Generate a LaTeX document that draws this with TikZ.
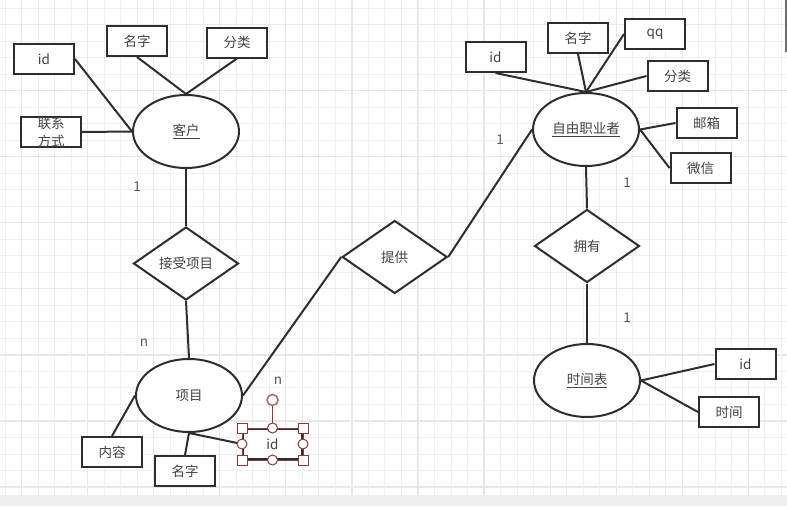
\documentclass[tikz,border=0pt]{standalone}
\usepackage{fontspec}
\setmainfont{Noto Sans CJK SC}
\usetikzlibrary{shapes.geometric}
\definecolor{ink}{HTML}{2E2E2E}
\definecolor{gridminor}{HTML}{EFEFEF}
\definecolor{gridmajor}{HTML}{E8E8E8}
\definecolor{selred}{HTML}{8B3A3A}
\tikzset{
  txt/.style={font=\fontsize{13.5}{16}\selectfont, text=ink!90},
  attr/.style={txt, draw=ink, fill=white, line width=2pt, minimum width=60pt, minimum height=30pt, inner sep=0pt},
  entity/.style={txt, ellipse, draw=ink, fill=white, line width=2pt, minimum width=106pt, minimum height=73pt, inner sep=0pt},
  rel/.style={txt, diamond, draw=ink, fill=white, line width=2pt, minimum width=105pt, minimum height=73pt, inner sep=0pt},
  card/.style={txt, text=ink!80},
  link/.style={draw=ink, line width=2pt},
  handlesq/.style={draw=selred, fill=white, line width=1pt, minimum size=10pt, inner sep=0pt},
  handlec/.style={circle, draw=selred, fill=white, line width=1pt, minimum size=10pt, inner sep=0pt},
}
\begin{document}
\begin{tikzpicture}[x=1pt, y=-1pt]
  \useasboundingbox (0,0) rectangle (787,506);
  \fill[white] (0,0) rectangle (787,506);
  \foreach \i in {0,...,47}
    \draw[gridminor, line width=1pt] (5+\i*16.52,0) -- (5+\i*16.52,495);
  \foreach \j in {0,...,29}
    \draw[gridminor, line width=1pt] (0,8+\j*16.52) -- (787,8+\j*16.52);
  \foreach \i in {1,5,...,45}
    \draw[gridmajor, line width=1.2pt] (5+\i*16.52,0) -- (5+\i*16.52,495);
  \foreach \j in {1,5,...,29}
    \draw[gridmajor, line width=1.2pt] (0,8+\j*16.52) -- (787,8+\j*16.52);
  \fill[gridminor] (0,495) rectangle (787,506);
  \draw[ink!70, line width=1.2pt] (786,0) -- (786,52);

  \node[entity] (kehu) at (186,131.5) {\underline{客户}};
  \node[attr] (kid) at (44,59) {id};
  \node[attr] (kname) at (137,41) {名字};
  \node[attr] (kcat) at (237,42.5) {分类};
  \node[attr, align=center, font=\fontsize{13.5}{18}\selectfont] (kcontact) at (51,132) {联系\\方式};
  \node[rel] (accept) at (186,263.5) {接受项目};
  \node[entity] (xm) at (189,395.5) {项目};
  \node[attr] (xcontent) at (112,452) {内容};
  \node[attr] (xname) at (185,471) {名字};
  \node[attr, minimum width=59pt] (xid) at (272.5,444) {id};
  \node[rel] (provide) at (394.7,257) {提供};
  \node[entity] (zy) at (586,129.5) {\underline{自由职业者}};
  \node[attr] (zid) at (495.5,57) {id};
  \node[attr] (zname) at (578,38) {名字};
  \node[attr] (zqq) at (655,34) {qq};
  \node[attr] (zcat) at (677.5,76) {分类};
  \node[attr] (zmail) at (706.5,123) {邮箱};
  \node[attr] (zwx) at (700.5,168) {微信};
  \node[rel] (own) at (587,246) {拥有};
  \node[entity] (sj) at (587,380.5) {\underline{时间表}};
  \node[attr] (sid) at (745.5,364) {id};
  \node[attr] (stime) at (729,412) {时间};

  \draw[link] (kid.east) -- (kehu.west);
  \draw[link] (kcontact.east) -- (kehu.west);
  \draw[link] (kname.south) -- (kehu.north);
  \draw[link] (kcat.south) -- (kehu.north);
  \draw[link] (kehu.south) -- (accept.north);
  \draw[link] (accept.south) -- (xm.north);
  \draw[link] (xcontent.north) -- (xm.west);
  \draw[link] (xname.north) -- (xm.south);
  \draw[link] (xm.south) -- (xid.west);
  \draw[link] (xm.east) -- (provide.west);
  \draw[link] (provide.east) -- (zy.west);
  \draw[link] (zid.south) -- (zy.north);
  \draw[link] (zname.south) -- (zy.north);
  \draw[link] (zqq.west) -- (zy.north);
  \draw[link] (zcat.west) -- (zy.north);
  \draw[link] (zmail.west) -- (zy.east);
  \draw[link] (zwx.west) -- (zy.east);
  \draw[link] (zy.south) -- (own.north);
  \draw[link] (own.south) -- (sj.north);
  \draw[link] (sid.west) -- (sj.east);
  \draw[link] (stime.west) -- (sj.east);

  \node[card] (c1) at (137,187) {1};
  \node[card] (c2) at (144,343) {n};
  \node[card] (c3) at (278,381) {n};
  \node[card] (c4) at (500,140) {1};
  \node[card] (c5) at (627,183) {1};
  \node[card] (c6) at (627,318) {1};

  \draw[selred, line width=0.8pt] (xid.north west) rectangle (xid.south east);
  \node[handlec, draw=selred!75, line width=1.5pt, minimum size=11pt] (rot) at (272.5,400) {};
  \draw[selred, line width=1pt] (rot) -- (xid.north);
  \foreach \c in {north west, north east, south west, south east}
    \node[handlesq] at (xid.\c) {};
  \foreach \c in {north, south, east, west}
    \node[handlec] at (xid.\c) {};
\end{tikzpicture}
\end{document}
